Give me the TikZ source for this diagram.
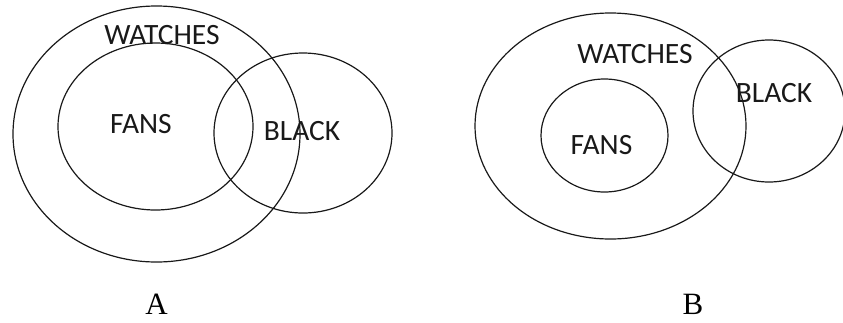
\documentclass[tikz,border=0pt]{standalone}
\usepackage{fontspec}
\setmainfont{Liberation Serif}
\newfontfamily\setfont{Carlito}
\usetikzlibrary{shapes.geometric}
\begin{document}
\begin{tikzpicture}[x=1pt,y=-1pt,
    setring/.style={draw=black!90, line width=1.2pt, ellipse, inner sep=0pt},
    setname/.style={font=\setfont\fontsize{29.5}{32}\selectfont, text=black!90, inner sep=0pt},
    caption/.style={font=\fontsize{31}{34}\selectfont, inner sep=0pt}]
  \useasboundingbox (0,0) rectangle (843,322);
  % diagram A
  \node[setring, minimum width=287, minimum height=256] (watchesA) at (156.5,134) {};
  \node[setring, minimum width=195, minimum height=167] (fansA) at (155.5,126.5) {};
  \node[setring, minimum width=178, minimum height=160] (blackA) at (303,133) {};
  \node[setname] (watchesAtext) at (162,35) {WATCHES};
  \node[setname] (fansAtext) at (141,124) {FANS};
  \node[setname] (blackAtext) at (302,131) {BLACK};
  \node[caption] (capA) at (156.5,304) {A};
  % diagram B
  \node[setring, minimum width=271, minimum height=226] (watchesB) at (610.5,126) {};
  \node[setring, minimum width=127, minimum height=113] (fansB) at (604.5,135.5) {};
  \node[setring, minimum width=152, minimum height=142] (blackB) at (769,111) {};
  \node[setname] (watchesBtext) at (635,54) {WATCHES};
  \node[setname] (fansBtext) at (601.5,145) {FANS};
  \node[setname] (blackBtext) at (774,93) {BLACK};
  \node[caption] (capB) at (693,304) {B};
\end{tikzpicture}
\end{document}
